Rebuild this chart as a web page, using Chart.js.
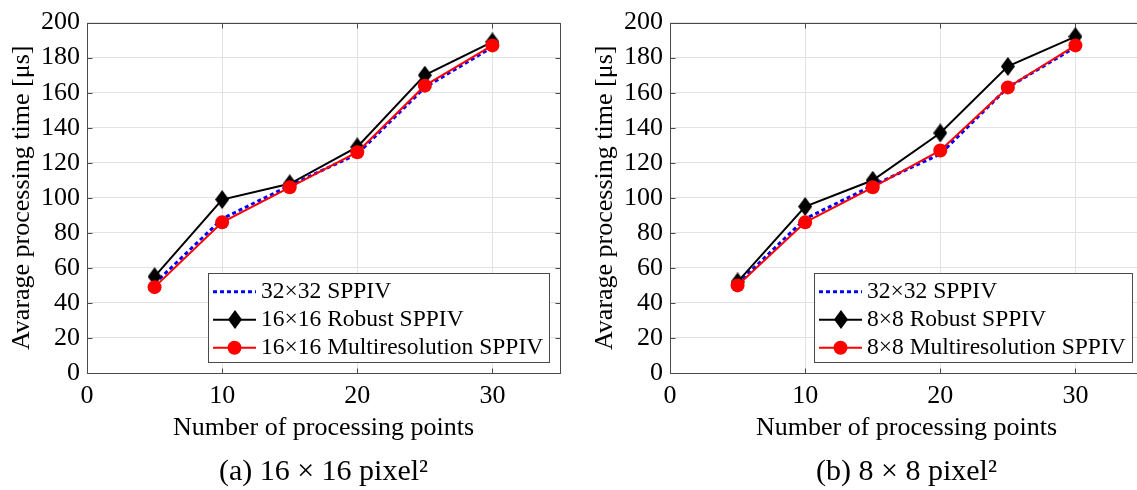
<!DOCTYPE html>
<html><head><meta charset="utf-8">
<script src="https://cdn.jsdelivr.net/npm/chart.js@4.4.1/dist/chart.umd.min.js"></script>
<style>
html,body{margin:0;padding:0;background:#fff;overflow:hidden;width:1137px;height:490px;position:relative;}
canvas{position:absolute;top:0;}
#c1{left:0;} #c2{left:583px;}
</style></head><body>
<canvas id="c1" width="568" height="490"></canvas>
<canvas id="c2" width="568" height="490"></canvas>
<script>
// ---- data ----
const xPoints = [5, 10, 15, 20, 25, 30];
const sppiv32 = [51, 88, 107, 125, 163, 186];
const robust16 = [55, 99, 108, 129, 170, 189];
const multi16 = [49, 86, 106, 126, 164, 187];
const robust8 = [52, 95, 110, 137, 175, 192];
const multi8 = [50, 86, 106, 127, 163, 187];
const xTicks = [0, 10, 20, 30];
const yTicks = [0, 20, 40, 60, 80, 100, 120, 140, 160, 180, 200];
const legendA = ['32\u00d732 SPPIV', '16\u00d716 Robust SPPIV', '16\u00d716 Multiresolution SPPIV'];
const legendB = ['32\u00d732 SPPIV', '8\u00d78 Robust SPPIV', '8\u00d78 Multiresolution SPPIV'];
const captionA = '(a) 16 \u00d7 16 pixel\u00b2';
const captionB = '(b) 8 \u00d7 8 pixel\u00b2';
const xTitle = 'Number of processing points';
const yTitle = 'Avarage processing time [\u03bcs]';

const FAMILY = "'Liberation Serif', 'Times New Roman', serif";

function makeDiamond(w, h) {
  const c = document.createElement('canvas');
  c.width = w; c.height = h;
  const g = c.getContext('2d');
  g.fillStyle = '#000';
  g.beginPath();
  g.moveTo(w / 2, 0); g.lineTo(w, h / 2); g.lineTo(w / 2, h); g.lineTo(0, h / 2);
  g.closePath(); g.fill();
  return c;
}
const diamond = makeDiamond(14, 19);

const framePlugin = {
  id: 'frame',
  beforeDatasetsDraw(chart) {
    const {ctx, chartArea: a, scales: {x, y}} = chart;
    const L = Math.round(a.left) + 0.5, R = Math.round(a.right) + 0.5;
    const T = Math.round(a.top) + 0.5, B = Math.round(a.bottom) + 0.5;
    ctx.save();
    ctx.strokeStyle = '#4a4a4a';
    ctx.lineWidth = 1;
    ctx.beginPath();
    const tl = 5;
    x.ticks.forEach(t => {
      const px = Math.round(x.getPixelForValue(t.value)) + 0.5;
      ctx.moveTo(px, B); ctx.lineTo(px, B - tl);
      ctx.moveTo(px, T); ctx.lineTo(px, T + tl);
    });
    y.ticks.forEach(t => {
      const py = Math.round(y.getPixelForValue(t.value)) + 0.5;
      ctx.moveTo(L, py); ctx.lineTo(L + tl, py);
      ctx.moveTo(R, py); ctx.lineTo(R - tl, py);
    });
    ctx.stroke();
    ctx.strokeRect(L, T, R - L, B - T);
    ctx.restore();
  }
};

const legendPlugin = {
  id: 'boxLegend',
  afterDraw(chart, args, opts) {
    const ctx = chart.ctx;
    ctx.save();
    ctx.font = opts.fontSize + 'px ' + FAMILY;
    const dsets = chart.data.datasets;
    const textW = Math.max(...dsets.map(d => ctx.measureText(d.label).width));
    const padL = 5, sampleW = 43, gap = 5, padR = 6;
    const width = padL + sampleW + gap + textW + padR;
    const left = Math.round(opts.right - width);
    const top = opts.top, height = opts.height;
    ctx.fillStyle = '#fff';
    ctx.fillRect(left, top, opts.right - left, height);
    ctx.strokeStyle = '#4a4a4a'; ctx.lineWidth = 1;
    ctx.strokeRect(left + 0.5, top + 0.5, opts.right - left, height);
    dsets.forEach((d, i) => {
      const cy = top + opts.firstRow + i * opts.rowGap;
      const x0 = left + padL, x1 = x0 + sampleW, cx = (x0 + x1) / 2;
      ctx.strokeStyle = d.borderColor; ctx.lineWidth = d.borderWidth;
      ctx.setLineDash(d.borderDash || []);
      ctx.beginPath(); ctx.moveTo(x0, cy); ctx.lineTo(x1, cy); ctx.stroke();
      ctx.setLineDash([]);
      if (d.pointRadius > 0) {
        if (d.pointStyle instanceof HTMLCanvasElement) {
          ctx.drawImage(d.pointStyle, Math.round(cx - d.pointStyle.width / 2), Math.round(cy - d.pointStyle.height / 2));
        } else {
          ctx.fillStyle = d.pointBackgroundColor;
          ctx.beginPath(); ctx.arc(cx, cy, d.pointRadius, 0, Math.PI * 2); ctx.fill();
        }
      }
      ctx.fillStyle = '#000'; ctx.textAlign = 'left'; ctx.textBaseline = 'middle';
      ctx.fillText(d.label, x1 + gap, cy);
    });
    ctx.restore();
  }
};

function pts(arr) { return xPoints.map((x, i) => ({x: x, y: arr[i]})); }

function makeChart(id, robust, multi, labels, caption, legendOpts) {
  return new Chart(document.getElementById(id), {
    type: 'line',
    data: {
      datasets: [
        {label: labels[0], data: pts(sppiv32), borderColor: '#0000ff', borderWidth: 3, borderDash: [4, 3],
         pointRadius: 0, fill: false, order: 2},
        {label: labels[1], data: pts(robust), borderColor: '#000000', borderWidth: 2, pointStyle: diamond,
         pointRadius: 8, pointBackgroundColor: '#000', pointBorderWidth: 0, fill: false, order: 1},
        {label: labels[2], data: pts(multi), borderColor: '#ff0000', borderWidth: 2, pointStyle: 'circle',
         pointRadius: 7, pointBackgroundColor: '#ff0000', pointBorderColor: '#ff0000', pointBorderWidth: 0, fill: false, order: 0}
      ]
    },
    options: {
      responsive: false, animation: false, devicePixelRatio: 1,
      layout: {padding: {top: 16, right: 7, bottom: 0, left: 0}},
      elements: {line: {tension: 0}},
      plugins: {
        legend: {display: false},
        tooltip: {enabled: false},
        title: {display: true, text: caption, position: 'bottom', fullSize: false, color: '#000',
                font: {family: FAMILY, size: 30, weight: 'normal'}, padding: {top: 0, bottom: 0}},
        boxLegend: legendOpts
      },
      scales: {
        x: {
          type: 'linear', min: 0, max: 35,
          afterBuildTicks: s => { s.ticks = xTicks.map(v => ({value: v})); },
          afterFit: s => { s.height = 81; },
          ticks: {color: '#000', font: {family: FAMILY, size: 26}, padding: 8, maxRotation: 0},
          grid: {color: '#e2e2e2', drawTicks: false, lineWidth: 1},
          border: {display: false},
          title: {display: true, text: xTitle, color: '#000', font: {family: FAMILY, size: 26}, padding: {top: 0, bottom: 10.4}}
        },
        y: {
          type: 'linear', min: 0, max: 200,
          afterBuildTicks: s => { s.ticks = yTicks.map(v => ({value: v})); },
          afterFit: s => { s.width = 87; },
          ticks: {color: '#000', font: {family: FAMILY, size: 26}, padding: 7},
          grid: {color: '#e2e2e2', drawTicks: false, lineWidth: 1},
          border: {display: false},
          title: {display: true, text: yTitle, color: '#000', font: {family: FAMILY, size: 26}, padding: {top: 7, bottom: 0}}
        }
      }
    },
    plugins: [framePlugin, legendPlugin]
  });
}

makeChart('c1', robust16, multi16, legendA, captionA, {right: 549, top: 273, height: 89, firstRow: 18.7, rowGap: 28, fontSize: 23.5});
makeChart('c2', robust8, multi8, legendB, captionB, {right: 549, top: 273, height: 89, firstRow: 18.7, rowGap: 28, fontSize: 23.5});
</script>
</body></html>
